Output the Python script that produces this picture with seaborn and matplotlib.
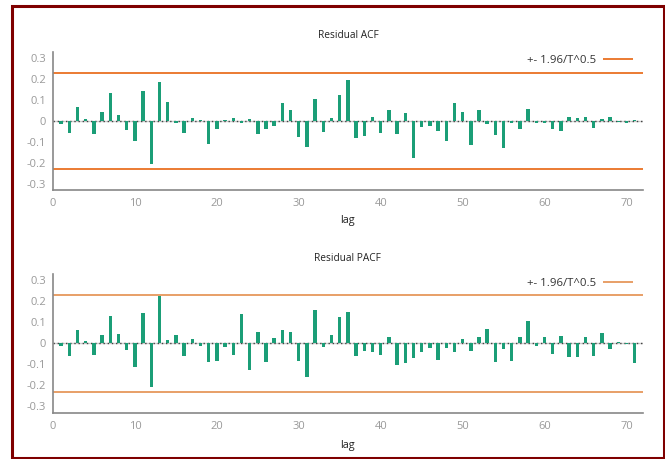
import numpy as np
import pandas as pd
import seaborn as sns
import matplotlib
matplotlib.use("Agg")
import matplotlib.pyplot as plt
from matplotlib.patches import Rectangle
from matplotlib.ticker import FuncFormatter

# Residual autocorrelations by lag
lags = list(range(1, 72))
acf = [-0.014, -0.059, 0.065, 0.011, -0.062, 0.043, 0.135, 0.030, -0.043, -0.095,
       0.144, -0.208, 0.184, 0.092, -0.011, -0.057, 0.016, 0.006, -0.111, -0.040,
       0.006, 0.013, -0.011, 0.008, -0.062, -0.040, -0.022, 0.087, 0.052, -0.078,
       -0.124, 0.106, -0.054, 0.013, 0.124, 0.195, -0.083, -0.073, 0.021, -0.056,
       0.051, -0.062, 0.037, -0.179, -0.030, -0.024, -0.048, -0.094, 0.084, 0.041,
       -0.116, 0.052, -0.013, -0.065, -0.129, -0.011, -0.040, 0.056, -0.008, -0.008,
       -0.040, -0.048, 0.017, 0.014, 0.017, -0.033, 0.008, 0.019, -0.006, -0.010,
       0.006]
pacf = [-0.013, -0.059, 0.065, 0.010, -0.054, 0.040, 0.130, 0.043, -0.033, -0.112,
        0.144, -0.210, 0.226, 0.017, 0.038, -0.060, 0.019, -0.011, -0.087, -0.084,
        -0.016, -0.054, 0.141, -0.125, 0.052, -0.089, 0.027, 0.065, 0.055, -0.084,
        -0.160, 0.158, -0.019, 0.041, 0.127, 0.149, -0.059, -0.035, -0.043, -0.055,
        0.030, -0.103, -0.095, -0.070, -0.040, -0.024, -0.079, -0.021, -0.041, 0.022,
        -0.035, 0.030, 0.070, -0.087, -0.027, -0.082, 0.028, 0.108, -0.011, 0.030,
        -0.052, 0.035, -0.065, -0.065, 0.030, -0.060, 0.049, -0.028, 0.006, -0.005,
        -0.093]
n_obs = 72
band = 1.96 / np.sqrt(n_obs)

titles = ["Residual ACF", "Residual PACF"]
legend_label = "+- 1.96/T^0.5"
yticks = [-0.3, -0.2, -0.1, 0, 0.1, 0.2, 0.3]
xticks = [0, 10, 20, 30, 40, 50, 60, 70]

GREEN = "#1b9e77"
ORANGE = "#e8650f"

sns.set_style("white")
plt.rcParams["font.family"] = ["Open Sans", "DejaVu Sans"]

fig = plt.figure(figsize=(6.65, 4.59), dpi=100)

panels = [
    dict(values=acf, rect=[0.0797, 0.586, 0.887, 0.301], title=titles[0],
         band_kw=dict(color=ORANGE, lw=1.2, alpha=1.0), lab_y=-0.18, tpad=10),
    dict(values=pacf, rect=[0.0797, 0.101, 0.887, 0.302], title=titles[1],
         band_kw=dict(color="#d95f02", lw=1.4, alpha=0.6), lab_y=-0.195, tpad=9.5),
]

for p in panels:
    ax = fig.add_axes(p["rect"])
    df = pd.DataFrame({"lag": lags, "value": p["values"]})
    ax.axhline(0, color="#cccccc", lw=1.0, zorder=1)
    ax.axhline(0, color="#444444", lw=1.0, ls=(0, (1, 2)), zorder=1)
    sns.barplot(data=df, x="lag", y="value", native_scale=True, width=0.42,
                color=GREEN, saturation=1, errorbar=None, linewidth=0, ax=ax,
                zorder=3)
    line, = ax.plot([0, 72], [band, band], label=legend_label, zorder=2,
                    solid_capstyle="butt", **p["band_kw"])
    ax.plot([0, 72], [-band, -band], zorder=2, solid_capstyle="butt", **p["band_kw"])

    ax.set_xlim(0, 72)
    ax.set_ylim(-0.33, 0.33)
    ax.set_xticks(xticks)
    ax.set_yticks(yticks)
    ax.yaxis.set_major_formatter(FuncFormatter(lambda v, _: f"{v:g}" if abs(v) > 1e-9 else "0"))
    ax.tick_params(axis="both", direction="in", length=3, width=1, color="#888888",
                   labelcolor="#999999", labelsize=8)
    ax.tick_params(axis="x", pad=6)
    ax.tick_params(axis="y", pad=5)
    for side in ["top", "right"]:
        ax.spines[side].set_visible(False)
    for side in ["left", "bottom"]:
        ax.spines[side].set_color("#888888")
        ax.spines[side].set_linewidth(1.2)

    ax.set_title(p["title"], fontsize=7.3, color="#222222", pad=p["tpad"])
    ax.set_xlabel("lag", fontsize=7.8, color="#222222")
    ax.set_ylabel("")
    ax.xaxis.set_label_coords(0.5, p["lab_y"])

    ax.legend(handles=[line], loc="center right", bbox_to_anchor=(0.983, 0.935),
              frameon=False, markerfirst=False, fontsize=8.2, handlelength=2.6,
              handletextpad=0.6, borderaxespad=0, borderpad=0, labelcolor="#333333")

# dark red frame around the figure
fig.add_artist(Rectangle((0.0173, 0.0022), 0.9812, 0.9858, transform=fig.transFigure,
                         fill=False, edgecolor="#7f0000", linewidth=2.2))

fig.savefig("out.png", dpi=100)
